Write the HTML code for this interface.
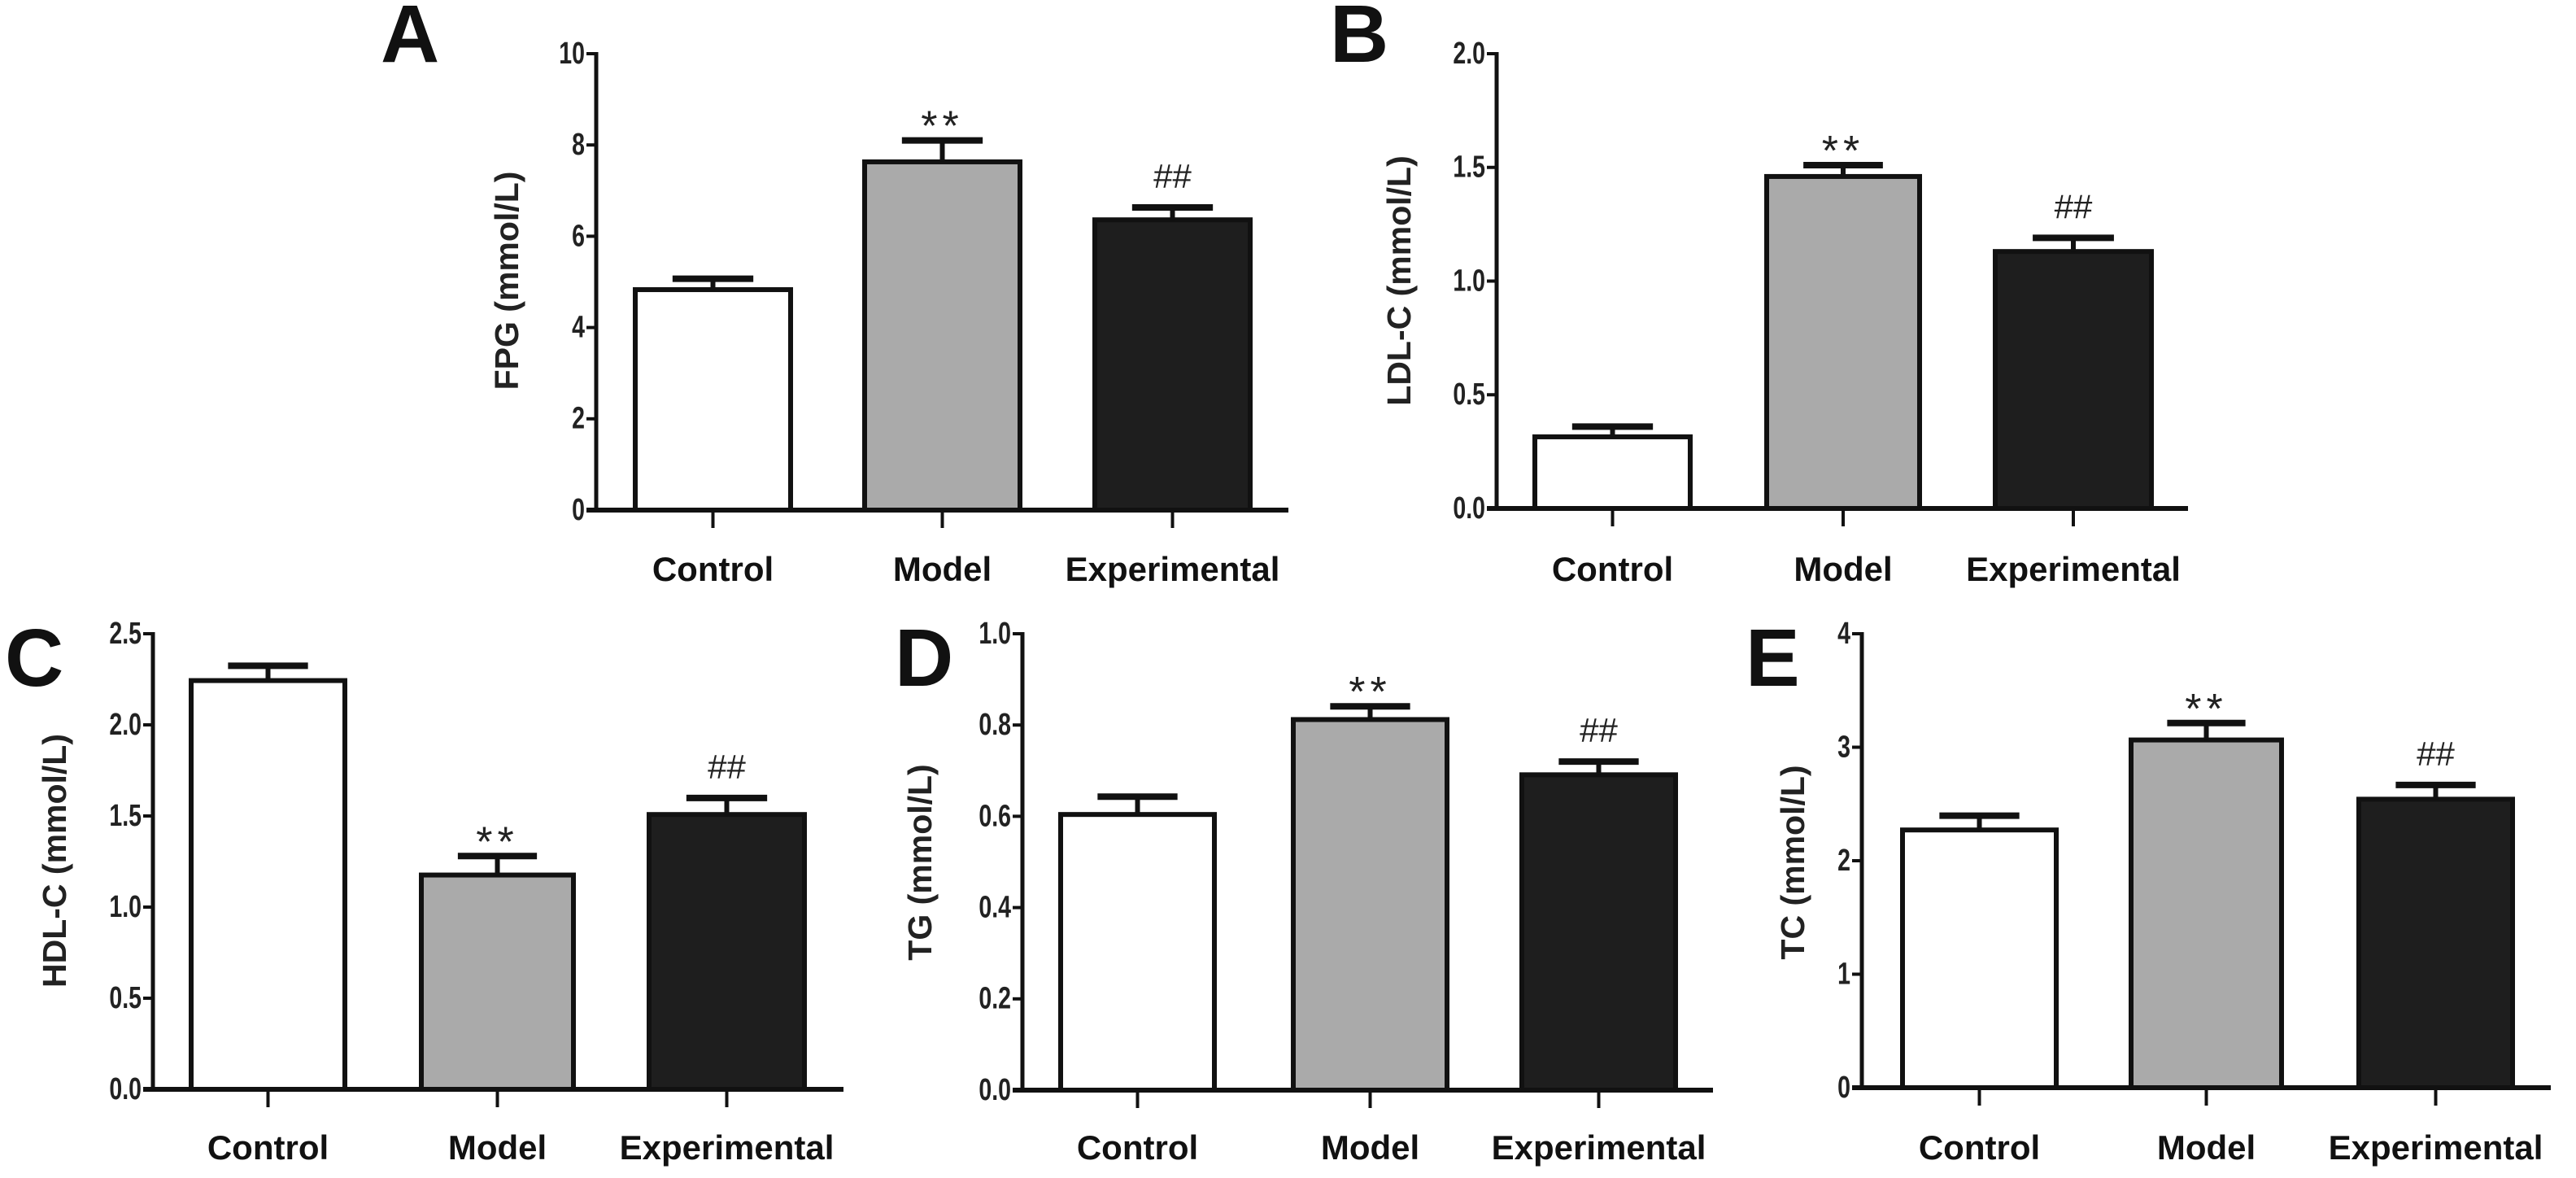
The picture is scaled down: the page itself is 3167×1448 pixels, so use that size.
<!DOCTYPE html>
<html><head><meta charset="utf-8"><style>
html,body{margin:0;padding:0;background:#fff;}
svg{display:block;font-family:"Liberation Sans",sans-serif;}
</style></head><body>
<svg id="fig" width="3167" height="1448" viewBox="0 0 3167 1448"></svg>
<script>
const categories = ["Control","Model","Experimental"];
const valuesA = [4.83, 7.63, 6.36];
const errorsA = [0.24, 0.47, 0.27];
const valuesB = [0.315, 1.46, 1.13];
const errorsB = [0.045, 0.05, 0.06];
const valuesC = [2.243, 1.176, 1.508];
const errorsC = [0.081, 0.104, 0.091];
const valuesD = [0.604, 0.812, 0.691];
const errorsD = [0.039, 0.029, 0.029];
const valuesE = [2.271, 3.064, 2.542];
const errorsE = [0.126, 0.149, 0.126];
const ticksA = ["0","2","4","6","8","10"];
const ticksB = ["0.0","0.5","1.0","1.5","2.0"];
const ticksC = ["0.0","0.5","1.0","1.5","2.0","2.5"];
const ticksD = ["0.0","0.2","0.4","0.6","0.8","1.0"];
const ticksE = ["0","1","2","3","4"];
const marksA = ["","**","##"];
const marksB = ["","**","##"];
const marksC = ["","**","##"];
const marksD = ["","**","##"];
const marksE = ["","**","##"];

const NS="http://www.w3.org/2000/svg";
const svg=document.getElementById('fig');
function mk(tag,attrs,parent){const e=document.createElementNS(NS,tag);for(const k in attrs)e.setAttribute(k,attrs[k]);(parent||svg).appendChild(e);return e;}
const fills=["#ffffff","#aaaaaa","#1e1e1e"];

function panel(p){
  const g=mk('g',{});
  
  
  const ymax=parseFloat(p.ticks[p.ticks.length-1]);
  const y=v=>p.zero-(v/ymax)*(p.zero-p.top);
  const L=mk('text',{x:p.lx,y:p.ly,'font-size':100,'font-weight':'bold',fill:'#111'},g);
  L.textContent=p.id;
  
  
  const t=mk('text',{x:0,y:0,'font-size':41,'font-weight':'bold','text-anchor':'middle','dominant-baseline':'central',fill:'#222',transform:`translate(${p.tx},${p.ty}) rotate(-90)`},g);
  t.textContent=p.title;
  
  
  p.vals.forEach((v,i)=>{
    const x0=p.bars[i][0],x1=p.bars[i][1],cx=(x0+x1)/2,w=x1-x0;
    const r=mk('rect',{x:x0,y:y(v),width:w,height:p.zero-y(v),fill:fills[i],stroke:'#111','stroke-width':6},g);
    
    
    const ey=y(v+p.errs[i]);
    const e1=mk('line',{x1:cx,x2:cx,y1:y(v),y2:ey,stroke:'#111','stroke-width':6},g);
    
    
    const e2=mk('line',{x1:cx-w*0.26,x2:cx+w*0.26,y1:ey,y2:ey,stroke:'#111','stroke-width':8},g);
    
    
    if(p.marks[i]){
      const isStar=p.marks[i]=='**';
      const m=mk('text',{x:cx,y:isStar?ey:ey-24,'font-size':isStar?52:42,'text-anchor':'middle',fill:'#222','letter-spacing':isStar?6:0},g);
      m.textContent=p.marks[i];
      
      
    }
    const tk=mk('line',{x1:cx,x2:cx,y1:p.zero,y2:p.zero+22,stroke:'#111','stroke-width':4},g);
    
    
    const cl=mk('text',{x:cx,y:p.lab,'font-size':42,'font-weight':'bold','text-anchor':'middle',fill:'#111'},g);
    cl.textContent=categories[i];
    
    
  });
  const ya=mk('line',{x1:p.ax,x2:p.ax,y1:p.top-2,y2:p.zero+3,stroke:'#111','stroke-width':5},g);
  
  
  const xa=mk('line',{x1:p.ax-12,x2:p.xend,y1:p.zero,y2:p.zero,stroke:'#111','stroke-width':6},g);
  
  
  p.ticks.forEach(s=>{
    const v=parseFloat(s),yy=y(v);
    const tl=mk('line',{x1:p.ax-12,x2:p.ax,y1:yy,y2:yy,stroke:'#111','stroke-width':4},g);
    
    
    const tt=mk('text',{x:0,y:0,'font-size':38,'font-weight':'bold','text-anchor':'end','dominant-baseline':'central',fill:'#222',transform:`translate(${p.ax-14},${yy}) scale(0.75,1)`},g);
    tt.textContent=s;
    
    
  });
}
panel({id:'A',title:'FPG (mmol/L)',vals:valuesA,errs:errorsA,ticks:ticksA,marks:marksA,ax:733,top:66,zero:627,xend:1584,bars:[[781,972],[1063,1254],[1346,1537]],lab:714,tx:623,ty:345,lx:468,ly:76});
panel({id:'B',title:'LDL-C (mmol/L)',vals:valuesB,errs:errorsB,ticks:ticksB,marks:marksB,ax:1840,top:66,zero:625,xend:2690,bars:[[1887,2078],[2172,2360],[2453,2645]],lab:714,tx:1720,ty:345,lx:1635,ly:76});
panel({id:'C',title:'HDL-C (mmol/L)',vals:valuesC,errs:errorsC,ticks:ticksC,marks:marksC,ax:188,top:779,zero:1339,xend:1037,bars:[[235,424],[518,705],[798,989]],lab:1425,tx:67,ty:1058,lx:6,ly:843});
panel({id:'D',title:'TG (mmol/L)',vals:valuesD,errs:errorsD,ticks:ticksD,marks:marksD,ax:1257,top:779,zero:1340,xend:2106,bars:[[1304,1493],[1590,1779],[1871,2060]],lab:1425,tx:1131,ty:1060,lx:1100,ly:843});
panel({id:'E',title:'TC (mmol/L)',vals:valuesE,errs:errorsE,ticks:ticksE,marks:marksE,ax:2289,top:779,zero:1337,xend:3136,bars:[[2339,2528],[2620,2805],[2900,3089]],lab:1425,tx:2204,ty:1060,lx:2146,ly:843});
</script>
</body></html>
